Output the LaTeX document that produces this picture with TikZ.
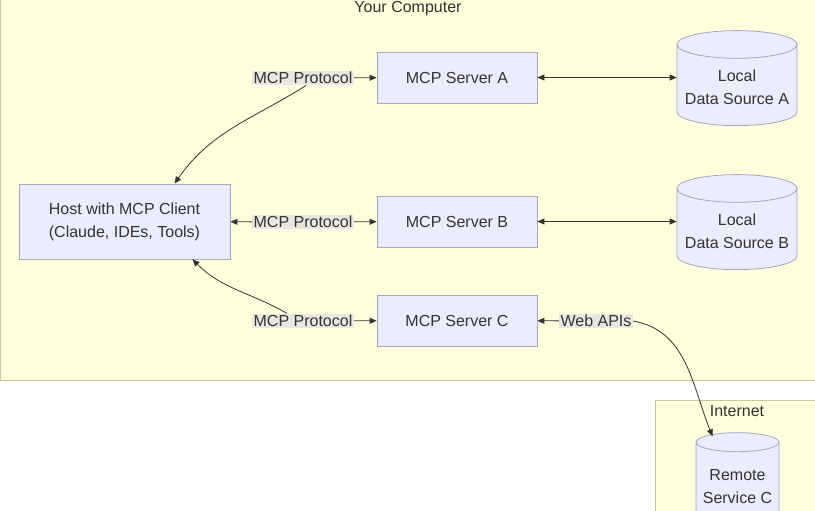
\documentclass[tikz,border=0pt]{standalone}
\usepackage{fontspec}
\setmainfont{Liberation Sans}
\usetikzlibrary{positioning,shapes.geometric,arrows.meta}

\definecolor{areafill}{HTML}{FFFFDE}
\definecolor{arealine}{HTML}{C9C99A}
\definecolor{boxfill}{HTML}{ECECFF}
\definecolor{boxline}{HTML}{A7A4C4}
\definecolor{lblfill}{HTML}{E8E8E0}
\definecolor{ink}{HTML}{333333}

\tikzset{
  area/.style={draw=arealine, fill=areafill, line width=1pt},
  srv/.style={draw=boxline, fill=boxfill, line width=0.8pt, minimum width=160pt, minimum height=51pt, text=ink},
  hostbox/.style={srv, minimum width=211pt, minimum height=75pt, align=center},
  store/.style={cylinder, shape border rotate=90, aspect=0.25, draw=boxline, fill=boxfill, line width=0.8pt,
    minimum width=120pt, minimum height=95pt, align=center, text=ink},
  lbl/.style={fill=lblfill, inner sep=1.5pt, text=ink},
  link/.style={draw=ink, line width=0.8pt, -{Triangle[length=7pt,width=6pt]}},
  twoway/.style={link, {Triangle[length=7pt,width=6pt]}-{Triangle[length=7pt,width=6pt]}},
}

\begin{document}
\begin{tikzpicture}[x=1pt,y=-1pt,font=\fontsize{16}{23}\selectfont]
  \clip (0,0) rectangle (815,511);
  % clusters
  \draw[area] (0.5,-10) rectangle (830,380);
  \node[text=ink] (youtitle) at (408,9) {Your Computer};
  \draw[area] (655,400) rectangle (830,530);
  \node[text=ink] (nettitle) at (737,411) {Internet};

  % nodes
  \node[hostbox] (host) at (124.5,221.5) {Host with MCP Client\\(Claude, IDEs, Tools)};
  \node[srv] (srvA) at (457,77.5) {MCP Server A};
  \node[srv] (srvB) at (457,221.5) {MCP Server B};
  \node[srv] (srvC) at (457,320.5) {MCP Server C};
  \node[store] (srcA) at (737,87.5) {Local\\Data Source A};
  \node[store] (srcB) at (737,231.5) {Local\\Data Source B};
  \node[store, minimum width=83pt] (remote) at (737.5,487) {Remote\\Service C};

  % edge labels
  \node[lbl] (lblA) at (303,78) {MCP Protocol};
  \node[lbl] (lblB) at (303,222) {MCP Protocol};
  \node[lbl] (lblC) at (303,321) {MCP Protocol};
  \node[lbl] (lblW) at (596,321) {Web APIs};

  % connectors
  \draw[link] (lblA) -- (srvA);
  \draw[link] ([xshift=3pt]lblA.south) to[out=-148,in=55] ([xshift=50pt]host.north);
  \draw[link] (lblB) -- (srvB);
  \draw[link] (lblB) -- (host);
  \draw[link] (lblC) -- (srvC);
  \draw[link] ([xshift=-16pt]lblC.north) to[out=150,in=-45] ([xshift=68pt]host.south);
  \draw[link] (lblW) -- (srvC);
  \draw[link] (lblW.east) to[out=-10,in=112] ([xshift=-25pt,yshift=-4pt]remote.north);
  \draw[twoway] (srvA.east) -- (srvA.east -| srcA.west);
  \draw[twoway] (srvB.east) -- (srvB.east -| srcB.west);
\end{tikzpicture}
\end{document}
